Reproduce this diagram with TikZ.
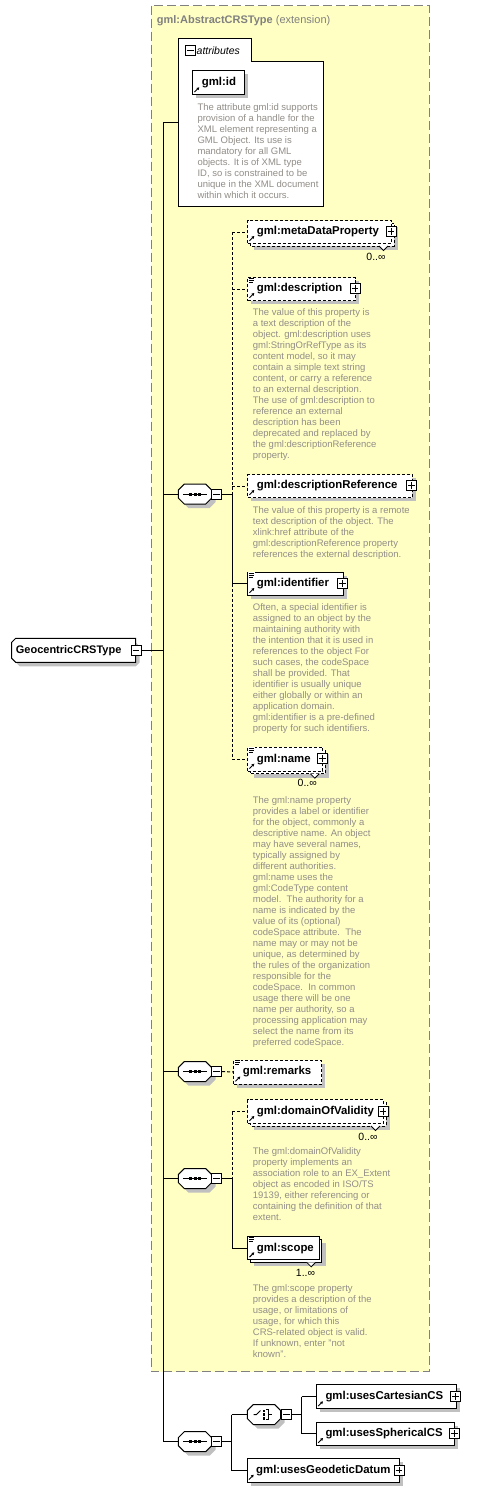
\documentclass[tikz,border=0pt]{standalone}
\usepackage{fontspec}
\setmainfont{Liberation Sans}
\usetikzlibrary{arrows.meta,calc}
\definecolor{extfill}{RGB}{255,255,196}
\definecolor{extline}{RGB}{128,128,128}
\definecolor{shcol}{RGB}{192,192,192}
\definecolor{desccol}{RGB}{146,142,136}
\tikzset{
  wire/.style={line width=1pt},
  opt/.style={dash pattern=on 3pt off 2pt},
  elem/.style={draw, fill=white, line width=1pt, anchor=north west, inner xsep=9pt, inner ysep=0pt, align=left, font=\fontsize{11.4}{13}\selectfont\bfseries},
  desc/.style={anchor=north west, inner sep=0pt, align=left, text=desccol, font=\fontsize{9.5}{11}\selectfont},
  card/.style={inner sep=0pt, font=\fontsize{10.5}{12}\selectfont},
  pmbox/.style={draw, fill=white, line width=1pt, minimum size=10pt, inner sep=0pt},
}
\newcommand\shad[4]{\fill[shcol] (#1+4,#2+4) rectangle (#3+4,#4+4);}
\newcommand\backbox[5]{\draw[fill=white,line width=1pt,#5] (#1+3,#2+3) rectangle (#3+3,#4+3);}
\newcommand\notch[2]{\draw[fill=white,line width=0.8pt] (#1-15,#2) -- (#1-10.5,#2+4.5) -- (#1-6,#2);}
\newcommand\elbox[7][]{%
  \pgfmathsetmacro\myew{#5-#3}\pgfmathsetmacro\myeh{#6-#4}\pgfmathsetmacro\myetw{#5-#3-18}%
  \node[elem,#1,minimum width=\myew pt,minimum height=\myeh pt,text width=\myetw pt] (#2) at (#3,#4) {#7};}
\newcommand\refarr[2]{\draw[line width=0.9pt,-{Triangle[length=2.6pt,width=2.8pt]}] (#1+2.2,#2-2.2) -- (#1+7,#2-7);}
\newcommand\docicon[2]{\fill[white] (#1+1,#2+0.5) rectangle (#1+7.5,#2+6.5);
  \draw[line width=0.7pt] (#1+1.5,#2+1.2) -- (#1+7,#2+1.2) (#1+1.5,#2+3.2) -- (#1+7,#2+3.2) (#1+1.5,#2+5.2) -- (#1+5.5,#2+5.2);}
\newcommand\mybxminus[3]{\node[pmbox] (#1) at (#2,#3) {};
  \draw[line width=1pt] ([xshift=2.2pt]#1.west) -- ([xshift=-2.2pt]#1.east);}
\newcommand\mybxplus[3]{\node[pmbox] (#1) at (#2,#3) {};
  \draw[line width=1pt] ([xshift=2.2pt]#1.west) -- ([xshift=-2.2pt]#1.east) ([yshift=2.2pt]#1.south) -- ([yshift=-2.2pt]#1.north);}
\newcommand\octa[7]{\path[#7] (#1+#5,#2) -- (#3-#5,#2) -- (#3,#2+#6) -- (#3,#4-#6) -- (#3-#5,#4) -- (#1+#5,#4) -- (#1,#4-#6) -- (#1,#2+#6) -- cycle;}
\newcommand\seqnode[3]{%
  \octa{#2+4}{#3+4}{#2+37.4}{#3+24}{6}{6}{fill=shcol}
  \octa{#2}{#3}{#2+33.4}{#3+20}{6}{6}{draw,fill=white,line width=1pt}
  \node[inner sep=0pt,minimum width=33.4pt,minimum height=20pt,anchor=north west] (#1) at (#2,#3) {};
  \draw[line width=1pt] ([xshift=5pt]#1.west) -- ([xshift=-5pt]#1.east);
  \fill ([xshift=-6pt,yshift=-1.5pt]#1.center) rectangle ++(3pt,3pt);
  \fill ([xshift=-1.5pt,yshift=-1.5pt]#1.center) rectangle ++(3pt,3pt);
  \fill ([xshift=3pt,yshift=-1.5pt]#1.center) rectangle ++(3pt,3pt);
  \mybxminus{#1pm}{#2+38.4}{#3+10}}
\begin{document}
\begin{tikzpicture}[x=1pt,y=-1pt]
\useasboundingbox (0,0) rectangle (485,1492);
% extension box
\draw[draw=extline, fill=extfill, line width=1pt, dash pattern=on 9pt off 4pt] (151,5.5) rectangle (429,1371.5);
\node[anchor=base west, inner sep=0pt, text=extline, font=\fontsize{11}{13}\selectfont] (ext) at (156.7,23) {\textbf{gml:AbstractCRSType} (extension)};

% attributes
\draw[fill=white, line width=1pt] (178.7,38.3) -- (251,38.3) -- (251,61.3) -- (323,61.3) -- (323,206) -- (178.7,206) -- cycle;
\coordinate (attr) at (178.7,122.7);
\mybxminus{attrpm}{190.7}{50.7}
\node[anchor=west, inner sep=0pt, font=\fontsize{10.5}{12}\selectfont\itshape] (attrlbl) at (196.5,50.5) {attributes};
\shad{192.3}{70.3}{243.7}{94.3}
\elbox{gid}{192.3}{70.3}{243.7}{94.3}{gml:id}
\refarr{192.3}{94.3}
\node[desc] (gid-d) at (197.3,103.3) {The attribute gml:id supports\\provision of a handle for the\\XML element representing a\\GML Object. Its use is\\mandatory for all GML\\objects. It is of XML type\\ID, so is constrained to be\\unique in the XML document\\within which it occurs.};

% root
\octa{15.7}{642.3}{139.7}{666.3}{4}{4}{fill=shcol}
\path[draw,fill=white,line width=1pt] (15.7,638.3) -- (135.7,638.3) -- (135.7,662.3) -- (15.7,662.3) -- (11.7,658.3) -- (11.7,642.3) -- cycle;
\node[anchor=west, inner sep=0pt, font=\fontsize{11}{13}\selectfont\bfseries] (root) at (15.7,650.5) {GeocentricCRSType};
\mybxminus{rootpm}{136}{650.5}

% compositors
\seqnode{seqA}{178.3}{484}
\seqnode{seqB}{178.3}{1061.5}
\seqnode{seqC}{178.3}{1168.5}
\seqnode{seqD}{178.3}{1431.7}

% choice
\octa{251.3}{1408.5}{284.7}{1428.5}{6}{6}{fill=shcol}
\octa{247.3}{1404.5}{280.7}{1424.5}{6}{6}{draw,fill=white,line width=1pt}
\node[inner sep=0pt,minimum width=33.4pt,minimum height=20pt,anchor=north west] (choice) at (247.3,1404.5) {};
\draw[line width=1pt] (253.5,1414.5) -- (256.5,1414.5) -- (260.5,1410.5);
\fill (262.5,1409.5) rectangle (265,1412);
\fill (262.5,1413.3) rectangle (265,1415.8);
\fill (262.5,1417) rectangle (265,1419.5);
\draw[line width=1pt] (266,1409.8) -- (268,1409.8) -- (268,1419.2) -- (266,1419.2) (268,1414.5) -- (272,1414.5);
\mybxminus{choicepm}{286.7}{1414.5}

% main bus
\coordinate (mainbus) at (163.3,650.5);
\draw[wire] (rootpm.east) -- (mainbus);
\draw[wire] (mainbus |- attr) -- (mainbus |- seqD.west);
\draw[wire] (mainbus |- attr) -- (attr);
\draw[wire] (mainbus |- seqA.west) -- (seqA.west);
\draw[wire] (mainbus |- seqB.west) -- (seqB.west);
\draw[wire] (mainbus |- seqC.west) -- (seqC.west);
\draw[wire] (mainbus |- seqD.west) -- (seqD.west);

% ---- sequence A children
\shad{250.3}{223}{394}{246}
\backbox{247.3}{220}{391}{243}{opt}
\notch{394}{246}
\elbox[opt]{mdp}{247.3}{220}{391}{243}{gml:metaDataProperty}
\refarr{247.3}{243}
\mybxplus{mdppm}{391}{231.5}
\node[card] (mdpc) at (376,257.3) {0..∞};

\shad{247.3}{277}{355}{300}
\elbox[opt]{descr}{247.3}{277}{355}{300}{gml:description}
\refarr{247.3}{300}
\docicon{247.3}{277}
\mybxplus{descrpm}{355}{288.5}
\node[desc] (descr-d) at (252.7,308.7) {The value of this property is\\a text description of the\\object. gml:description uses\\gml:StringOrRefType as its\\content model, so it may\\contain a simple text string\\content, or carry a reference\\to an external description.\\The use of gml:description to\\reference an external\\description has been\\deprecated and replaced by\\the gml:descriptionReference\\property.};

\shad{247.3}{474}{411.7}{497}
\elbox[opt]{dref}{247.3}{474}{411.7}{497}{gml:descriptionReference}
\refarr{247.3}{497}
\mybxplus{drefpm}{411.7}{485.5}
\node[desc] (dref-d) at (252.7,506) {The value of this property is a remote\\text description of the object. The\\xlink:href attribute of the\\gml:descriptionReference property\\references the external description.};

\shad{247.3}{571.7}{342.7}{595}
\elbox{ident}{247.3}{571.7}{342.7}{595}{gml:identifier}
\refarr{247.3}{595}
\docicon{247.3}{571.7}
\mybxplus{identpm}{342.7}{583.3}
\node[desc] (ident-d) at (252.7,603.7) {Often, a special identifier is\\assigned to an object by the\\maintaining authority with\\the intention that it is used in\\references to the object For\\such cases, the codeSpace\\shall be provided. That\\identifier is usually unique\\either globally or within an\\application domain.\\gml:identifier is a pre-defined\\property for such identifiers.};

\shad{250.3}{749.7}{325.3}{773.7}
\backbox{247.3}{746.7}{322.3}{770.7}{opt}
\notch{325.3}{773.7}
\elbox[opt]{gname}{247.3}{746.7}{322.3}{770.7}{gml:name}
\refarr{247.3}{770.7}
\docicon{247.3}{746.7}
\mybxplus{gnamepm}{322.3}{758.7}
\node[card] (gnamec) at (307.3,783.3) {0..∞};
\node[desc] (gname-d) at (252.7,796) {The gml:name property\\provides a label or identifier\\for the object, commonly a\\descriptive name. An object\\may have several names,\\typically assigned by\\different authorities.\\gml:name uses the\\gml:CodeType content\\model.\ \ The authority for a\\name is indicated by the\\value of its (optional)\\codeSpace attribute.\ \ The\\name may or may not be\\unique, as determined by\\the rules of the organization\\responsible for the\\codeSpace.\ \ In common\\usage there will be one\\name per authority, so a\\processing application may\\select the name from its\\preferred codeSpace.};

\coordinate (busA) at (232.3,494);
\draw[wire] (seqApm.east) -- (busA);
\draw[wire,opt] (busA |- mdp.west) -- (busA);
\draw[wire] (busA) -- (busA |- ident.west);
\draw[wire,opt] (busA |- ident.west) -- (busA |- gname.west);
\draw[wire,opt] (busA |- mdp.west) -- (mdp.west);
\draw[wire,opt] (busA |- descr.west) -- (descr.west);
\draw[wire,opt] (busA |- dref.west) -- (dref.west);
\draw[wire] (busA |- ident.west) -- (ident.west);
\draw[wire,opt] (busA |- gname.west) -- (gname.west);

% ---- sequence B
\shad{233.3}{1059.5}{321}{1083.5}
\elbox[opt]{remarks}{233.3}{1059.5}{321}{1083.5}{gml:remarks}
\refarr{233.3}{1083.5}
\docicon{233.3}{1059.5}
\draw[wire,opt] (seqBpm.east) -- (remarks.west);

% ---- sequence C
\shad{250.3}{1102.3}{386}{1126}
\backbox{247.3}{1099.3}{383}{1123}{opt}
\notch{386}{1126}
\elbox[opt]{dov}{247.3}{1099.3}{383}{1123}{gml:domainOfValidity}
\refarr{247.3}{1123}
\mybxplus{dovpm}{383}{1111.2}
\node[card] (dovc) at (368,1136.7) {0..∞};
\node[desc] (dov-d) at (252.7,1147.7) {The gml:domainOfValidity\\property implements an\\association role to an EX\_Extent\\object as encoded in ISO/TS\\19139, either referencing or\\containing the definition of that\\extent.};

\shad{250.3}{1239}{321.7}{1262.3}
\backbox{247.3}{1236}{318.7}{1259.3}{}
\notch{321.7}{1262.3}
\elbox{scope}{247.3}{1236}{318.7}{1259.3}{gml:scope}
\refarr{247.3}{1259.3}
\docicon{247.3}{1236}
\node[card] (scopec) at (305.5,1272.7) {1..∞};
\node[desc] (scope-d) at (252.7,1284.3) {The gml:scope property\\provides a description of the\\usage, or limitations of\\usage, for which this\\CRS-related object is valid.\\If unknown, enter "not\\known".};

\coordinate (busC) at (232.3,1178.5);
\draw[wire] (seqCpm.east) -- (busC);
\draw[wire,opt] (busC |- dov.west) -- (busC);
\draw[wire] (busC) -- (busC |- scope.west);
\draw[wire,opt] (busC |- dov.west) -- (dov.west);
\draw[wire] (busC |- scope.west) -- (scope.west);

% ---- sequence D
\shad{316}{1384}{455.7}{1408.3}
\elbox{ucart}{316}{1384}{455.7}{1408.3}{gml:usesCartesianCS}
\refarr{316}{1408.3}
\mybxplus{ucartpm}{455.7}{1396.2}

\shad{316}{1421.7}{454.3}{1445}
\elbox{usph}{316}{1421.7}{454.3}{1445}{gml:usesSphericalCS}
\refarr{316}{1445}
\mybxplus{usphpm}{454.3}{1433.3}

\shad{246.7}{1458.3}{399}{1481.7}
\elbox{ugeo}{246.7}{1458.3}{399}{1481.7}{gml:usesGeodeticDatum}
\refarr{246.7}{1481.7}
\mybxplus{ugeopm}{399}{1470}

\coordinate (busD) at (231.7,1441.7);
\draw[wire] (seqDpm.east) -- (busD);
\draw[wire] (busD |- choice.west) -- (busD |- ugeo.west);
\draw[wire] (busD |- choice.west) -- (choice.west);
\draw[wire] (busD |- ugeo.west) -- (ugeo.west);

\coordinate (busE) at (301.7,1414.5);
\draw[wire] (choicepm.east) -- (busE);
\draw[wire] (busE |- ucart.west) -- (busE |- usph.west);
\draw[wire] (busE |- ucart.west) -- (ucart.west);
\draw[wire] (busE |- usph.west) -- (usph.west);
\end{tikzpicture}
\end{document}
